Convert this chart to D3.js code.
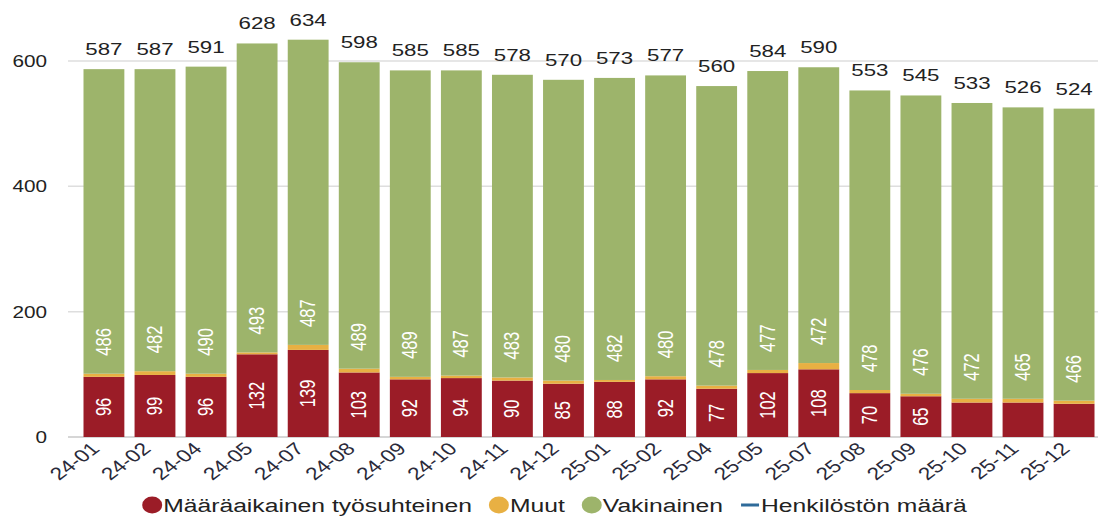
<!DOCTYPE html>
<html>
<head>
<meta charset="utf-8">
<script src="https://cdn.jsdelivr.net/npm/d3@7"></script>
<style>
  body { margin: 0; background: #fff; }
  svg { font-family: "Liberation Sans", Arial, sans-serif; }
</style>
</head>
<body>
<svg width="1110" height="517"></svg>
<script>
// categories and values
var months = ["24-01","24-02","24-04","24-05","24-07","24-08","24-09","24-10","24-11","24-12",
              "25-01","25-02","25-04","25-05","25-07","25-08","25-09","25-10","25-11","25-12"];
var maaraaikainen = [96, 99, 96, 132, 139, 103, 92, 94, 90, 85, 88, 92, 77, 102, 108, 70, 65, 55, 55, 53];
var muut =          [5, 6, 5, 3, 8, 6, 4, 4, 5, 5, 3, 5, 5, 5, 10, 5, 4, 6, 6, 5];
var vakinainen =    [486, 482, 490, 493, 487, 489, 489, 487, 483, 480, 482, 480, 478, 477, 472, 478, 476, 472, 465, 466];
var henkilosto =    [587, 587, 591, 628, 634, 598, 585, 585, 578, 570, 573, 577, 560, 584, 590, 553, 545, 533, 526, 524];
// the last three temporary-contract values are shown without a label
var showMaarLabel = [1,1,1,1,1,1,1,1,1,1,1,1,1,1,1,1,1,0,0,0];
var yTicks = [0, 200, 400, 600];

var svg = d3.select("svg");

var colors = { maar: "#9b1c27", muut: "#e8b043", vak: "#9db46b", line: "#2f6b9a" };
var sx = 1.3; // the reference's text is wide, as if stretched sideways

var x = d3.scaleBand()
  .domain(months)
  .range([83.5, 1094.5])
  .paddingInner(0.2)
  .paddingOuter(0);

var y = d3.scaleLinear()
  .domain([0, 600])
  .range([437, 61]);

// grid
svg.append("g")
  .selectAll("line")
  .data(yTicks)
  .enter()
  .append("line")
  .attr("x1", 68)
  .attr("x2", 1098)
  .attr("y1", function (d) { return y(d); })
  .attr("y2", function (d) { return y(d); })
  .style("stroke", function (d) { return d === 0 ? "#c8c8c8" : "#dedede"; })
  .style("stroke-width", 1.5);

// y labels
svg.append("g")
  .selectAll("text")
  .data(yTicks)
  .enter()
  .append("text")
  .attr("transform", function (d) { return "translate(47," + (y(d) + 6) + ") scale(1.22,1)"; })
  .attr("text-anchor", "end")
  .style("font-size", "17px")
  .style("fill", "#222")
  .text(function (d) { return d; });

// stacked data
var rows = months.map(function (m, i) {
  return { month: m, maar: maaraaikainen[i], muut: muut[i], vak: vakinainen[i], total: henkilosto[i], show: showMaarLabel[i] };
});
var stack = d3.stack().keys(["maar", "muut", "vak"])(rows);

svg.append("g")
  .selectAll("g")
  .data(stack)
  .enter()
  .append("g")
  .attr("fill", function (s) { return colors[s.key]; })
  .selectAll("rect")
  .data(function (s) { return s; })
  .enter()
  .append("rect")
  .attr("x", function (d) { return x(d.data.month); })
  .attr("width", x.bandwidth())
  .attr("y", function (d) { return y(d[1]); })
  .attr("height", function (d) { return y(d[0]) - y(d[1]); });

// labels inside red segments
svg.append("g")
  .selectAll("text")
  .data(rows.filter(function (d) { return d.show; }))
  .enter()
  .append("text")
  .attr("transform", function (d) {
    return "translate(" + (x(d.month) + x.bandwidth() / 2 + 7) + "," + y(d.maar / 2) + ") rotate(-90) scale(1," + sx + ")";
  })
  .attr("text-anchor", "middle")
  .style("font-size", "16.5px")
  .style("fill", "#fff")
  .text(function (d) { return d.maar; });

// labels inside green segments, near the bottom
svg.append("g")
  .selectAll("text")
  .data(rows)
  .enter()
  .append("text")
  .attr("transform", function (d) {
    return "translate(" + (x(d.month) + x.bandwidth() / 2 + 7) + "," + (y(d.maar + d.muut) - 18) + ") rotate(-90) scale(1," + sx + ")";
  })
  .attr("text-anchor", "start")
  .style("font-size", "16.5px")
  .style("fill", "#fff")
  .text(function (d) { return d.vak; });

// totals
svg.append("g")
  .selectAll("text")
  .data(rows)
  .enter()
  .append("text")
  .attr("transform", function (d) {
    return "translate(" + (x(d.month) + x.bandwidth() / 2) + "," + (y(d.total) - 14) + ") scale(1.35,1)";
  })
  .attr("text-anchor", "middle")
  .style("font-size", "16.5px")
  .style("fill", "#222")
  .text(function (d) { return d.total; });

// x labels
svg.append("g")
  .selectAll("text")
  .data(months)
  .enter()
  .append("text")
  .attr("transform", function (d) {
    return "translate(" + (x(d) + x.bandwidth() / 2 - 3) + ",450) scale(" + sx + ",1) rotate(-44)";
  })
  .attr("text-anchor", "end")
  .style("font-size", "17.5px")
  .style("fill", "#2a2a3a")
  .text(function (d) { return d; });

// legend
var legendItems = [
  { name: "Määräaikainen työsuhteinen", color: colors.maar, type: "dot" },
  { name: "Muut", color: colors.muut, type: "dot" },
  { name: "Vakinainen", color: colors.vak, type: "dot" },
  { name: "Henkilöstön määrä", color: colors.line, type: "line" }
];
var legend = svg.append("g").attr("transform", "translate(0,507)");
var lx = 0;
legendItems.forEach(function (item) {
  var g = legend.append("g").attr("transform", "translate(" + lx + ",0)");
  if (item.type === "dot") {
    g.append("ellipse").attr("cx", 9).attr("cy", -2).attr("rx", 10).attr("ry", 8.5).attr("fill", item.color);
  } else {
    g.append("line").attr("x1", 0).attr("x2", 18).attr("y1", -2).attr("y2", -2)
      .style("stroke", item.color).style("stroke-width", 3);
  }
  var t = g.append("text")
    .attr("transform", "translate(20,5) scale(" + sx + ",1)")
    .style("font-size", "19px")
    .style("fill", "#222")
    .text(item.name);
  lx += 20 + t.node().getComputedTextLength() * sx + 18;
});
var legendWidth = lx - 18;
legend.attr("transform", "translate(" + (555 - legendWidth / 2) + ",507)");
</script>
</body>
</html>
